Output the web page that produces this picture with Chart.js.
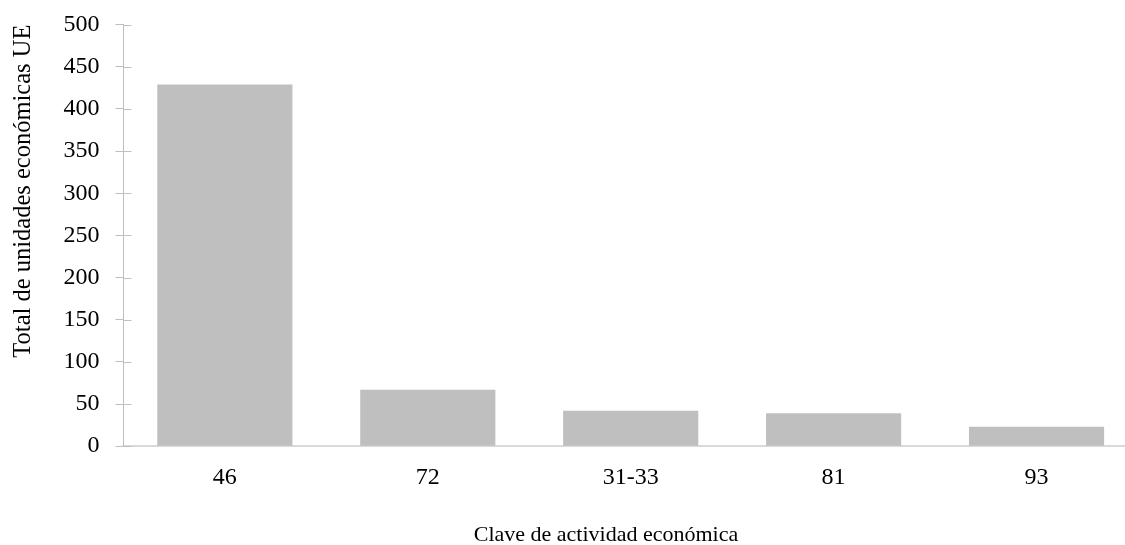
<!DOCTYPE html>
<html>
<head>
<meta charset="utf-8">
<script src="https://cdn.jsdelivr.net/npm/chart.js@4.4.1/dist/chart.umd.min.js"></script>
<style>
  html, body { margin: 0; padding: 0; background: #fff; overflow: hidden; }
  #wrap { width: 1140px; height: 545px; }
</style>
</head>
<body>
<div id="wrap"><canvas id="chart"></canvas></div>
<script>
// Datos del gráfico
const categorias = ['46', '72', '31-33', '81', '93'];
const totalUE = [429, 67, 42, 39, 23];
const tituloY = 'Total de unidades económicas UE';
const tituloX = 'Clave de actividad económica';

const fuente = 'Liberation Serif, Times New Roman, serif';
const gris = '#BFBFBF';

// marcas del eje Y que cruzan la línea del eje
const marcasCruzadas = {
  id: 'marcasCruzadas',
  afterDraw(chart) {
    const y = chart.scales.y;
    const ctx = chart.ctx;
    ctx.save();
    ctx.strokeStyle = gris;
    ctx.lineWidth = 1;
    y.ticks.forEach((t, i) => {
      const py = Math.round(y.getPixelForTick(i)) + 0.5;
      ctx.beginPath();
      ctx.moveTo(y.right, py);
      ctx.lineTo(y.right + 8, py);
      ctx.stroke();
    });
    ctx.restore();
  }
};

// título del eje X (centrado como en el original)
const tituloEjeX = {
  id: 'tituloEjeX',
  afterDraw(chart) {
    const ctx = chart.ctx;
    ctx.save();
    ctx.font = '22px ' + fuente;
    ctx.fillStyle = '#000';
    ctx.textAlign = 'center';
    ctx.textBaseline = 'middle';
    ctx.fillText(tituloX, 606, 535);
    ctx.restore();
  }
};

new Chart(document.getElementById('chart'), {
  type: 'bar',
  data: {
    labels: categorias,
    datasets: [{
      data: totalUE,
      backgroundColor: gris,
      borderWidth: 0,
      barPercentage: 0.666,
      categoryPercentage: 1
    }]
  },
  options: {
    responsive: true,
    maintainAspectRatio: false,
    animation: false,
    layout: { padding: { top: 6, left: 9, right: 2, bottom: 36 } },
    plugins: { legend: { display: false }, tooltip: { enabled: false } },
    scales: {
      x: {
        grid: { display: false, drawTicks: false },
        border: { color: '#D9D9D9', width: 2 },
        ticks: { color: '#000', font: { family: fuente, size: 24 }, padding: 17 }
      },
      y: {
        min: 0,
        max: 500,
        ticks: { stepSize: 50, color: '#000', font: { family: fuente, size: 24, lineHeight: 0.72 }, padding: 16 },
        grid: { drawOnChartArea: false, tickLength: 8, color: gris },
        border: { color: gris, width: 1 },
        title: {
          display: true,
          text: tituloY,
          align: 'end',
          color: '#000',
          font: { family: fuente, size: 24.5 },
          padding: { top: 0, bottom: 9 }
        }
      }
    }
  },
  plugins: [marcasCruzadas, tituloEjeX]
});
</script>
</body>
</html>
